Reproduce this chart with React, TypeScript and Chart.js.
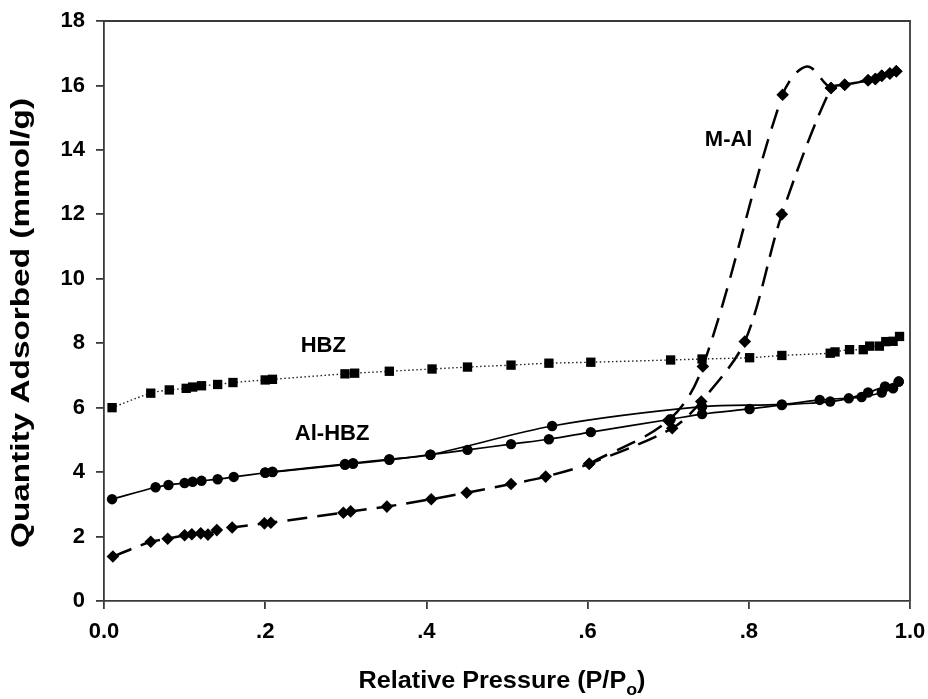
import React, { useEffect, useRef } from "react";
import { Chart, registerables } from "chart.js";

Chart.register(...registerables);

// ---------- data ----------
const xTickLabels = ["0.0", ".2", ".4", ".6", ".8", "1.0"];
const yTicks = [0, 2, 4, 6, 8, 10, 12, 14, 16, 18];

const hbzX = [0.010, 0.058, 0.081, 0.102, 0.110, 0.121, 0.141, 0.160, 0.200, 0.209, 0.299, 0.311, 0.354, 0.407, 0.451, 0.505, 0.552, 0.604, 0.703, 0.742, 0.801, 0.841, 0.901, 0.907, 0.925, 0.942, 0.950, 0.962, 0.970, 0.979, 0.987];
const hbzY = [6.00, 6.45, 6.55, 6.60, 6.64, 6.68, 6.72, 6.78, 6.86, 6.88, 7.05, 7.07, 7.13, 7.20, 7.26, 7.32, 7.38, 7.41, 7.48, 7.51, 7.55, 7.62, 7.69, 7.73, 7.80, 7.80, 7.91, 7.91, 8.05, 8.06, 8.21];

const alAdsX = [0.010, 0.064, 0.080, 0.100, 0.110, 0.121, 0.141, 0.161, 0.200, 0.209, 0.299, 0.309, 0.354, 0.405, 0.451, 0.505, 0.552, 0.604, 0.703, 0.742, 0.801, 0.841, 0.901, 0.924, 0.948, 0.969, 0.986];
const alAdsY = [3.16, 3.53, 3.60, 3.66, 3.70, 3.73, 3.78, 3.85, 3.98, 4.00, 4.23, 4.26, 4.38, 4.54, 4.69, 4.87, 5.02, 5.24, 5.64, 5.80, 5.96, 6.08, 6.19, 6.29, 6.47, 6.66, 6.81];
const alDesX = [0.986, 0.979, 0.965, 0.940, 0.888, 0.841, 0.742, 0.556, 0.405, 0.354, 0.309, 0.299, 0.209, 0.200];
const alDesY = [6.81, 6.60, 6.47, 6.33, 6.24, 6.10, 6.03, 5.43, 4.54, 4.40, 4.28, 4.25, 4.01, 3.99];

const mAdsX = [0.011, 0.058, 0.079, 0.100, 0.109, 0.120, 0.129, 0.140, 0.159, 0.199, 0.207, 0.297, 0.306, 0.351, 0.406, 0.450, 0.505, 0.548, 0.602, 0.705, 0.741, 0.795, 0.841, 0.902, 0.919, 0.948, 0.957, 0.965, 0.975, 0.983];
const mAdsY = [1.38, 1.84, 1.93, 2.04, 2.07, 2.10, 2.06, 2.20, 2.28, 2.41, 2.43, 2.74, 2.78, 2.93, 3.16, 3.36, 3.63, 3.86, 4.26, 5.36, 6.19, 8.05, 12.00, 15.92, 16.02, 16.16, 16.20, 16.30, 16.37, 16.44];
const mDesX = [0.983, 0.975, 0.965, 0.957, 0.948, 0.919, 0.902, 0.842, 0.743, 0.700, 0.602];
const mDesY = [16.44, 16.37, 16.30, 16.20, 16.16, 16.02, 15.92, 15.71, 7.28, 5.60, 4.26];
// the drawn desorption curve (spline) passes over a peak between markers
const mDesCurveX = [0.983, 0.965, 0.948, 0.919, 0.902, 0.872, 0.842, 0.743, 0.700, 0.602];
const mDesCurveY = [16.44, 16.30, 16.16, 16.02, 15.92, 16.59, 15.71, 7.28, 5.60, 4.26];

const seriesLabels = [
  { text: "HBZ", x: 0.272, y: 7.92 },
  { text: "Al-HBZ", x: 0.283, y: 5.18 },
  { text: "M-Al", x: 0.775, y: 14.3 },
];

const xTitle = "Relative Pressure (P/P";
const xTitleSub = "o";
const yTitle = "Quantity Adsorbed (mmol/g)";

const pts = (xs: number[], ys: number[]) => xs.map((x, i) => ({ x, y: ys[i] }));

const FONT = "'Liberation Sans', Arial, sans-serif";
const INK = "#000";
const AXIS = "#3a3a3a";

const decorPlugin = {
  id: "decor",
  afterDatasetsDraw(chart: any) {
    const { ctx, chartArea, scales } = chart;
    ctx.save();
    // frame top + right
    ctx.strokeStyle = AXIS;
    ctx.lineWidth = 1.8;
    ctx.beginPath();
    ctx.moveTo(chartArea.left, chartArea.top);
    ctx.lineTo(chartArea.right, chartArea.top);
    ctx.lineTo(chartArea.right, chartArea.bottom);
    ctx.stroke();
    // series labels
    ctx.fillStyle = INK;
    ctx.font = `bold 22px ${FONT}`;
    ctx.textAlign = "center";
    ctx.textBaseline = "middle";
    for (const l of seriesLabels) {
      ctx.fillText(l.text, scales.x.getPixelForValue(l.x), scales.y.getPixelForValue(l.y));
    }
    // x title with subscript
    ctx.font = `bold 24px ${FONT}`;
    const w1 = ctx.measureText(xTitle).width;
    ctx.font = `bold 17px ${FONT}`;
    const w2 = ctx.measureText(xTitleSub).width;
    ctx.font = `bold 24px ${FONT}`;
    const w3 = ctx.measureText(")").width;
    const total = w1 + w2 + w3;
    const targetW = 287;
    const sx = targetW / total;
    const cx = (chartArea.left + chartArea.right) / 2 - 5;
    const base = chartArea.bottom + 87;
    ctx.save();
    ctx.translate(cx - targetW / 2, base);
    ctx.scale(sx, 1);
    ctx.textAlign = "left";
    ctx.textBaseline = "alphabetic";
    let x0 = 0;
    ctx.fillText(xTitle, x0, 0);
    x0 += w1;
    ctx.font = `bold 17px ${FONT}`;
    ctx.fillText(xTitleSub, x0, 7);
    x0 += w2;
    ctx.font = `bold 24px ${FONT}`;
    ctx.fillText(")", x0, 0);
    ctx.restore();
    // y title (rotated)
    ctx.save();
    ctx.font = `bold 25px ${FONT}`;
    const wy = ctx.measureText(yTitle).width;
    const targetY = 450;
    ctx.translate(22, (chartArea.top + chartArea.bottom) / 2 + 12);
    ctx.rotate(-Math.PI / 2);
    ctx.scale(targetY / wy, 1);
    ctx.textAlign = "center";
    ctx.textBaseline = "middle";
    ctx.fillText(yTitle, 0, 0);
    ctx.restore();
    ctx.restore();
  },
};

export default function App() {
  const ref = useRef<HTMLCanvasElement | null>(null);
  useEffect(() => {
    if (!ref.current) return;
    const chart = new Chart(ref.current, {
      type: "scatter",
      data: {
        datasets: [
          {
            label: "HBZ",
            data: pts(hbzX, hbzY),
            showLine: true,
            borderColor: "#222",
            borderWidth: 1.4,
            borderDash: [1.5, 2.5],
            tension: 0.3,
            pointStyle: "rect",
            pointRadius: 6.6,
            pointBackgroundColor: INK,
            pointBorderColor: INK,
            pointBorderWidth: 0,
          },
          {
            label: "Al-HBZ ads",
            data: pts(alAdsX, alAdsY),
            showLine: true,
            borderColor: INK,
            borderWidth: 1.7,
            tension: 0.3,
            pointStyle: "circle",
            pointRadius: 5.2,
            pointBackgroundColor: INK,
            pointBorderColor: INK,
            pointBorderWidth: 0,
          },
          {
            label: "Al-HBZ des",
            data: pts(alDesX, alDesY),
            showLine: true,
            borderColor: INK,
            borderWidth: 1.7,
            tension: 0.3,
            pointStyle: "circle",
            pointRadius: 5.2,
            pointBackgroundColor: INK,
            pointBorderColor: INK,
            pointBorderWidth: 0,
          },
          {
            label: "M-Al ads",
            data: pts(mAdsX, mAdsY),
            showLine: true,
            borderColor: INK,
            borderWidth: 2.5,
            borderDash: [20, 10],
            tension: 0.3,
            pointStyle: "rectRot",
            pointRadius: 6.3,
            pointBackgroundColor: INK,
            pointBorderColor: INK,
            pointBorderWidth: 0,
          },
          {
            label: "M-Al des curve",
            data: pts(mDesCurveX, mDesCurveY),
            showLine: true,
            borderColor: INK,
            borderWidth: 2.5,
            borderDash: [20, 11],
            tension: 0.35,
            pointRadius: 0,
          },
          {
            label: "M-Al des",
            data: pts(mDesX, mDesY),
            showLine: false,
            borderColor: INK,
            pointStyle: "rectRot",
            pointRadius: 6.3,
            pointBackgroundColor: INK,
            pointBorderColor: INK,
            pointBorderWidth: 0,
          },
        ],
      },
      options: {
        responsive: false,
        animation: false,
        events: [],
        layout: { padding: { top: 21, right: 18, left: 0, bottom: 0 } },
        plugins: {
          legend: { display: false },
          tooltip: { enabled: false },
          title: { display: false },
        },
        scales: {
          x: {
            type: "linear",
            min: 0,
            max: 1,
            afterFit: (s: any) => {
              s.height = 98;
              s.paddingLeft = 0;
              s.paddingRight = 0;
            },
            afterBuildTicks: (s: any) => { s.ticks = xTickLabels.map((_, i) => ({ value: i * 0.2 })); },
            ticks: {
              callback: (_v: any, i: number) => xTickLabels[i],
              color: INK,
              font: { family: FONT, size: 22, weight: "bold" },
              padding: 10,
              maxRotation: 0,
            },
            grid: { drawOnChartArea: false, drawTicks: true, tickLength: 8, color: AXIS, lineWidth: 1.8 },
            border: { display: true, color: AXIS, width: 1.8 },
          },
          y: {
            type: "linear",
            min: 0,
            max: 18,
            afterFit: (s: any) => {
              s.width = 104;
              s.paddingTop = 0;
              s.paddingBottom = 0;
            },
            afterBuildTicks: (s: any) => { s.ticks = yTicks.map((v) => ({ value: v })); },
            ticks: {
              color: INK,
              font: { family: FONT, size: 22, weight: "bold" },
              padding: 11,
            },
            grid: { drawOnChartArea: false, drawTicks: true, tickLength: 8, color: AXIS, lineWidth: 1.8 },
            border: { display: true, color: AXIS, width: 1.8 },
          },
        },
      },
      plugins: [decorPlugin],
    } as any);
    return () => chart.destroy();
  }, []);
  return (
    <div style={{ position: "absolute", left: 0, top: 0, width: 928, height: 699, background: "#fff" }}>
      <canvas ref={ref} width={928} height={699} style={{ display: "block" }} />
    </div>
  );
}
